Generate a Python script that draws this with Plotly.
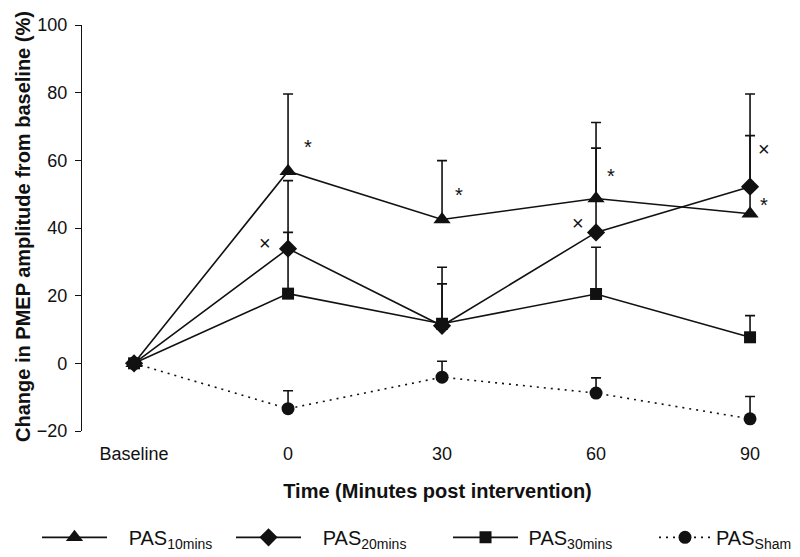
import plotly.graph_objects as go

categories = ["Baseline", "0", "30", "60", "90"]
x_pos = [0, 1, 2, 3, 4]

pas10_mean = [0, 56.8, 42.5, 48.7, 44.2]
pas10_sd = [0, 22.8, 17.4, 22.5, 23.1]
pas20_mean = [0, 33.9, 11.1, 38.7, 52.2]
pas20_sd = [0, 20.1, 12.4, 24.9, 27.4]
pas30_mean = [0, 20.6, 11.7, 20.5, 7.7]
pas30_sd = [0, 18.1, 16.7, 13.8, 6.4]
sham_mean = [0, -13.4, -4.1, -8.8, -16.4]
sham_sd = [0, 5.3, 4.7, 4.5, 6.6]

series_names = ["PAS<sub>10mins</sub>", "PAS<sub>20mins</sub>", "PAS<sub>30mins</sub>", "PAS<sub>Sham</sub>"]

# significance marks: (x position, y value, symbol)
sig_x = [1.13, 0.85, 2.11, 3.10, 2.88, 4.09, 4.09]
sig_y = [65, 35.7, 51, 56.5, 41.4, 63.4, 47.9]
sig_text = ["*", "×", "*", "*", "×", "×", "*"]

ink = "#111111"
font_family = "Liberation Sans, Arial, sans-serif"
nb = "\u00a0"

fig = go.Figure()

def add_series(mean, sd, name, symbol, size, dash, legend, pad):
    fig.add_trace(go.Scatter(
        x=x_pos, y=mean, name=nb * pad + name, mode="lines+markers", legend=legend,
        line=dict(color=ink, width=1.6, dash=dash),
        marker=dict(symbol=symbol, size=size, color=ink),
        error_y=dict(type="data", symmetric=False, array=sd,
                     arrayminus=[0] * len(sd), color=ink,
                     thickness=1.6, width=5),
    ))

add_series(pas10_mean, pas10_sd, series_names[0], "triangle-up", 15, "solid", "legend", 3)
add_series(pas20_mean, pas20_sd, series_names[1], "diamond", 14, "solid", "legend2", 3)
add_series(pas30_mean, pas30_sd, series_names[2], "square", 12, "solid", "legend3", 1)
add_series(sham_mean, sham_sd, series_names[3], "circle", 13, "2px,5px", "legend4", 0)

x_range = [-0.338, 4.279]

for sx, sy, st in zip(sig_x, sig_y, sig_text):
    fig.add_annotation(x=sx, y=sy, text=st, showarrow=False,
                       font=dict(size=20, color=ink, family=font_family),
                       yshift=-4 if st == "*" else 0)

fig.add_annotation(xref="paper", yref="paper", x=-0.0828, y=0.503,
                   xanchor="center", yanchor="middle", borderpad=0,
                   text="<b>Change in PMEP amplitude from baseline (%)</b>",
                   textangle=-90, showarrow=False,
                   font=dict(size=20, color=ink, family=font_family))

def leg(x, iw=65):
    return dict(orientation="h", x=x, xanchor="left", y=-0.262, yanchor="middle",
                font=dict(size=20, family=font_family, color=ink),
                itemwidth=iw, bgcolor="rgba(0,0,0,0)")

fig.update_layout(
    width=792, height=549,
    margin=dict(l=74, r=7, t=17, b=126, autoexpand=False),
    plot_bgcolor="white", paper_bgcolor="white",
    font=dict(family=font_family, color=ink, size=17),
    showlegend=True,
    legend=leg(-0.0633), legend2=leg(0.2096), legend3=leg(0.5148),
    legend4=leg(0.8045, 52),
    xaxis=dict(range=x_range, tickvals=x_pos, ticktext=categories,
               showline=False, ticks="", showgrid=False, zeroline=False,
               ticklabelstandoff=10,
               tickfont=dict(size=18, family=font_family, color=ink),
               title=dict(text="<b>Time (Minutes post intervention)</b>",
                          font=dict(size=20, family=font_family, color=ink),
                          standoff=20)),
    xaxis2=dict(overlaying="x", anchor="free", position=20 / 120, side="bottom",
                range=x_range, tickvals=[0.5, 1.5, 2.5, 3.5, x_range[1]],
                ticks="outside", ticklen=6, tickwidth=1.4, tickcolor=ink,
                showticklabels=False, showline=True, linecolor=ink, linewidth=1.4,
                showgrid=False, zeroline=False),
    yaxis=dict(range=[-20, 100], dtick=20, showline=True, linecolor=ink, linewidth=1.4,
               ticks="outside", ticklen=6, tickwidth=1.4, tickcolor=ink,
               showgrid=False, zeroline=False, ticklabelstandoff=4,
               tickfont=dict(size=18, family=font_family, color=ink)),
)

fig.write_html("out.html")
